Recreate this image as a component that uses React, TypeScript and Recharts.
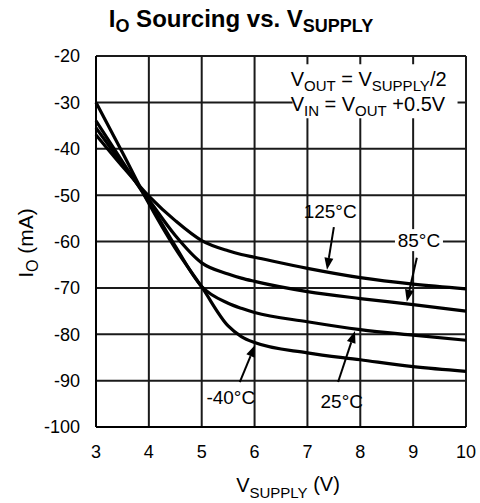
import {
  LineChart,
  Line,
  XAxis,
  YAxis,
  CartesianGrid,
  ReferenceArea,
  ReferenceDot,
  ReferenceLine,
} from "recharts";

const FONT = "'Liberation Sans', Arial, Helvetica, sans-serif";

// supply voltage (V) and sourcing current (mA) per temperature
const vSupply = [3, 3.5, 4, 4.5, 5, 5.5, 5.75, 6, 7, 8, 9, 10];
const io125 = [-37, -43.8, -50.2, -55.5, -59.8, -62, -62.8, -63.4, -65.8, -67.8, -69.2, -70.2];
const io85 = [-35.5, -43.3, -51, -58.7, -64.6, -67, -67.9, -68.6, -70.8, -72.3, -73.6, -75];
const io25 = [-34, -42.8, -51.5, -61, -69.7, -73.3, -74.4, -75.3, -77.3, -79, -80.2, -81.3];
const ioM40 = [-30, -40.8, -51.8, -61.5, -69.8, -78.2, -80.5, -81.8, -84, -85.5, -87, -88];

const xTicks = [3, 4, 5, 6, 7, 8, 9, 10];
const yTicks = [-100, -90, -80, -70, -60, -50, -40, -30, -20];

const tempLabels = [
  { text: "125°C", x: 7.43, y: -53.6, boxed: false },
  { text: "85°C", x: 9.11, y: -59.7, boxed: true },
  { text: "-40°C", x: 5.55, y: -93.7, boxed: false },
  { text: "25°C", x: 7.65, y: -94.6, boxed: false },
];

const arrows = [
  { x1: 7.5, y1: -56.9, x2: 7.37, y2: -66.1 },
  { x1: 9.07, y1: -63.5, x2: 8.88, y2: -73.0 },
  { x1: 5.72, y1: -90.3, x2: 6.01, y2: -82.3 },
  { x1: 7.58, y1: -90.3, x2: 7.9, y2: -79.3 },
];

const data = vSupply.map((v, i) => ({
  v,
  t125: io125[i],
  t85: io85[i],
  t25: io25[i],
  tm40: ioM40[i],
}));

function Arrow(props: any) {
  const { x1, y1, x2, y2 } = props;
  const ang = Math.atan2(y2 - y1, x2 - x1);
  const len = 12;
  const half = 4.5;
  const bx = x2 - len * Math.cos(ang);
  const by = y2 - len * Math.sin(ang);
  const px = -Math.sin(ang) * half;
  const py = Math.cos(ang) * half;
  return (
    <g>
      <line x1={x1} y1={y1} x2={bx} y2={by} stroke="#000" strokeWidth={2} />
      <polygon
        points={`${x2},${y2} ${bx + px},${by + py} ${bx - px},${by - py}`}
        fill="#000"
      />
    </g>
  );
}

function TempLabel({ cx, cy, text, boxed }: any) {
  const w = text.length * 10.5 + 6;
  return (
    <g>
      {boxed && <rect x={cx - w / 2} y={cy - 11} width={w} height={22} fill="#fff" />}
      <text
        x={cx}
        y={cy}
        textAnchor="middle"
        dominantBaseline="central"
        fontSize={19}
        fontFamily={FONT}
        fill="#000"
      >
        {text}
      </text>
    </g>
  );
}

function Conditions({ viewBox }: any) {
  const { x, y } = viewBox;
  const sub = { fontSize: 15 };
  return (
    <text x={x} y={y} fontFamily={FONT} fontSize={20} fill="#000">
      <tspan x={x - 2} y={y + 22}>V</tspan>
      <tspan dy={5} {...sub}>OUT</tspan>
      <tspan dy={-5}> = V</tspan>
      <tspan dy={5} {...sub}>SUPPLY</tspan>
      <tspan dy={-5}>/2</tspan>
      <tspan x={x - 2} y={y + 47}>V</tspan>
      <tspan dy={5} {...sub}>IN</tspan>
      <tspan dy={-5}> = V</tspan>
      <tspan dy={5} {...sub}>OUT</tspan>
      <tspan dy={-5}> +0.5V</tspan>
    </text>
  );
}

export default function App() {
  return (
    <div style={{ position: "absolute", left: 0, top: 0, width: 480, height: 503 }}>
      <LineChart
        width={480}
        height={503}
        data={data}
        margin={{ top: 56, right: 14, bottom: 0, left: 0 }}
      >
        <CartesianGrid stroke="#1a1a1a" strokeWidth={2} />
        <XAxis
          dataKey="v"
          type="number"
          domain={[3, 10]}
          ticks={xTicks}
          height={76}
          tickLine={false}
          tickMargin={12}
          axisLine={{ stroke: "#000", strokeWidth: 2 }}
          tick={{ fontSize: 18, fontFamily: FONT, fill: "#000" }}
          label={{
            content: () => (
              <text x={288} y={492} textAnchor="middle" fontFamily={FONT} fontSize={20} fill="#000">
                V<tspan dy={6} fontSize={15}>SUPPLY</tspan>
                <tspan dy={-7}> (V)</tspan>
              </text>
            ),
          }}
        />
        <YAxis
          type="number"
          domain={[-100, -20]}
          ticks={yTicks}
          width={96}
          tickLine={false}
          tickMargin={10}
          axisLine={{ stroke: "#000", strokeWidth: 2 }}
          tick={{ fontSize: 18, fontFamily: FONT, fill: "#000" }}
          label={{
            content: () => (
              <text
                x={33}
                y={243}
                transform="rotate(-90, 33, 243)"
                textAnchor="middle"
                fontFamily={FONT}
                fontSize={21}
                fill="#000"
              >
                I<tspan dy={5} fontSize={16}>O</tspan>
                <tspan dy={-5}> (mA)</tspan>
              </text>
            ),
          }}
        />
        <ReferenceArea
          x1={6.72}
          x2={9.84}
          y1={-33.4}
          y2={-21.8}
          fill="#fff"
          fillOpacity={1}
          stroke="none"
          label={{ content: (p: any) => <Conditions {...p} /> }}
        />
        <Line type="monotone" dataKey="t125" stroke="#000" strokeWidth={3.2} dot={false} isAnimationActive={false} />
        <Line type="monotone" dataKey="t85" stroke="#000" strokeWidth={3.2} dot={false} isAnimationActive={false} />
        <Line type="monotone" dataKey="t25" stroke="#000" strokeWidth={3.2} dot={false} isAnimationActive={false} />
        <Line type="monotone" dataKey="tm40" stroke="#000" strokeWidth={3.2} dot={false} isAnimationActive={false} />
        {tempLabels.map((l) => (
          <ReferenceDot
            key={l.text}
            x={l.x}
            y={l.y}
            r={0}
            shape={(p: any) => <TempLabel {...p} text={l.text} boxed={l.boxed} />}
          />
        ))}
        {arrows.map((a, i) => (
          <ReferenceLine
            key={i}
            segment={[
              { x: a.x1, y: a.y1 },
              { x: a.x2, y: a.y2 },
            ]}
            shape={(p: any) => <Arrow {...p} />}
          />
        ))}
        <text x={241} y={27} textAnchor="middle" fontFamily={FONT} fontSize={24} fontWeight="bold" fill="#000">
          I<tspan dy={5} fontSize={18}>O</tspan>
          <tspan dy={-5}> Sourcing vs. V</tspan>
          <tspan dy={5} fontSize={18}>SUPPLY</tspan>
        </text>
      </LineChart>
    </div>
  );
}
